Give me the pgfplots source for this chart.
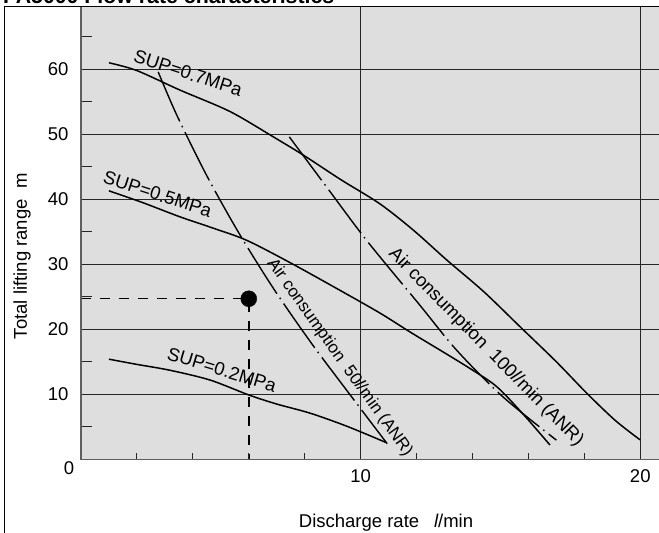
\documentclass[border=0pt]{standalone}
\usepackage{fontspec}
\setmainfont{Liberation Sans}
\usepackage{pgfplots}
\pgfplotsset{compat=1.18}
\definecolor{bg}{RGB}{222,222,222}
\definecolor{axgray}{RGB}{95,95,95}
\newcommand{\fs}{\fontsize{18.5}{22}\selectfont}
\tikzset{dashdot/.style={black, line width=1.4pt, dash pattern=on 54pt off 5pt on 1.5pt off 5.5pt}}
\begin{document}
\begin{tikzpicture}
\begin{axis}[
  at={(0pt,0pt)}, anchor=south west,
  scale only axis, width=578pt, height=452.8pt,
  xmin=0, xmax=20.67, ymin=0, ymax=69.66,
  axis background/.style={fill=bg},
  axis line style={draw=none},
  xtick={10,20}, ytick={10,20,...,60},
  minor ytick={5,15,...,65},
  tick align=inside, xtick pos=bottom, ytick pos=left,
  major tick length=0pt, minor tick length=11pt,
  minor tick style={black!85, line width=0.9pt},
  grid=major, major grid style={black!85, line width=0.8pt},
  /pgf/number format/assume math mode=true,
  tick label style={font=\fs},
  xticklabel style={yshift=-7pt},
  yticklabel style={xshift=-9pt},
  clip=false,
]
% SUP = 0.7 MPa
\addplot[black, line width=1.5pt, smooth] coordinates {
 (1.0,61.0) (2.0,59.8) (3.54,56.8) (5.33,53.5) (6.88,49.6) (7.95,46.8) (9.3,43.0)
 (10.69,39.3) (11.9,35.2) (13.07,30.7) (14.4,25.8) (15.7,20.4) (17.0,15.0) (18.08,10.2) (19.1,6.0) (19.99,3.0)};
% SUP = 0.5 MPa
\addplot[black, line width=1.5pt, smooth] coordinates {
 (1.0,41.3) (2.2,39.5) (3.54,37.3) (4.7,35.6) (5.92,33.7) (7.5,30.2) (9.26,26.0)
 (10.69,22.5) (11.8,19.5) (12.84,16.8) (13.9,14.0) (14.86,11.2) (15.8,7.0) (16.77,2.2)};
% SUP = 0.2 MPa
\addplot[black, line width=1.5pt, smooth] coordinates {
 (1.0,15.4) (2.0,14.6) (3.18,13.7) (4.61,12.2) (6.0,9.9) (7.0,8.5) (8.19,7.1) (9.5,5.1) (10.9,2.6)};
% Air consumption 50 l/min
\addplot[dashdot, smooth] coordinates {
 (2.76,59.6) (3.42,53.0) (4.49,43.7) (5.62,35.0) (6.88,26.3) (8.25,17.8) (9.68,9.6) (10.95,2.4)};
% Air consumption 100 l/min
\addplot[dashdot, smooth] coordinates {
 (7.45,49.6) (8.8,41.8) (10.21,33.7) (12.12,23.7) (13.43,16.8) (15.09,9.6) (17.0,2.95)};
% operating point
\addplot[black, line width=1.5pt, dash pattern=on 10pt off 9pt] coordinates {(0,24.7) (6,24.7) (6,0)};
\addplot[only marks, mark=*, mark size=8pt, black] coordinates {(6,24.7)};
% labels
\node[rotate=-18, font=\fs] at (axis cs:3.83,59.4) {SUP=0.7MPa};
\node[rotate=-18, font=\fs] at (axis cs:2.74,40.8) {SUP=0.5MPa};
\node[rotate=-17, font=\fs] at (axis cs:5.04,13.8) {SUP=0.2MPa};
\node[rotate=-54.5, font=\fontsize{17}{20}\selectfont] at (axis cs:9.25,15.6) {Air consumption\ \ 50{\itshape l}/min (ANR)};
\node[rotate=-45.5, font=\fs] at (axis cs:14.48,17.2) {Air consumption\ \ 100{\itshape l}/min (ANR)};
\end{axis}
\foreach \x in {2,4,6,8,12,14,16,18} {\draw[black!85, line width=0.9pt] (\x*27.965pt,0) -- ++(0,6pt);}
\draw[axgray, line width=1.3pt] (0,452.8pt) -- (0,0) -- (578pt,0);
\draw[black, line width=1pt] (-76pt,-100pt) -- (-76pt,452.8pt) -- (700pt,452.8pt);
\node[anchor=base west, inner sep=0, font=\bfseries\fontsize{21.3}{25}\selectfont] at (-78pt,456pt) {PA5000 Flow rate characteristics};
\node[font=\fs] at (-12pt,-9pt) {0};
\node[rotate=90, font=\fs] at (-59pt,203pt) {Total lifting range\ \ m};
\node[anchor=base, font=\fs] at (305pt,-68.7pt) {Discharge rate\hspace{0.8em}{\itshape l}/min};
\pgfresetboundingbox
\useasboundingbox (-81pt,-73.7pt) rectangle (578pt,459.3pt);
\end{tikzpicture}
\end{document}
